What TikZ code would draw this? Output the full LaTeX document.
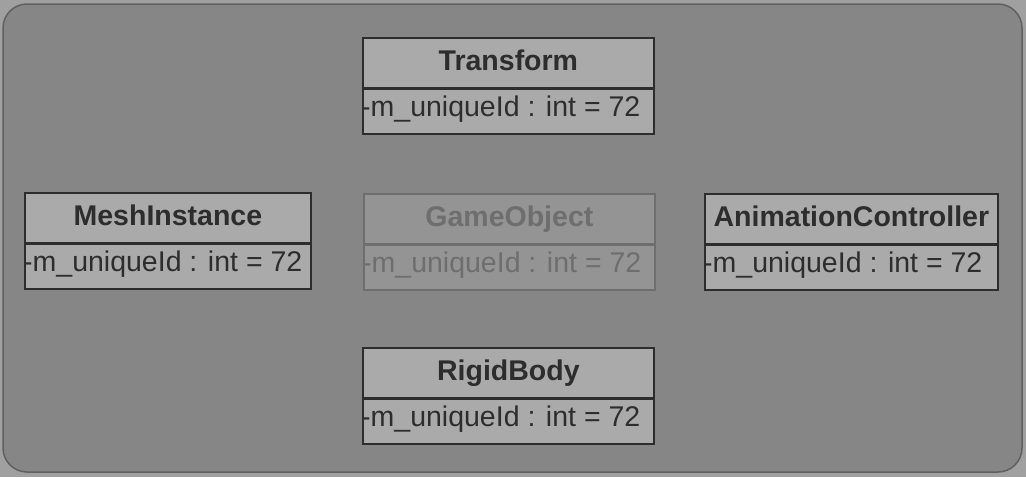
\documentclass[tikz,border=0pt]{standalone}
\usepackage{fontspec}
\setmainfont{Liberation Sans}
\definecolor{papergray}{RGB}{160,160,160}
\definecolor{panelgray}{RGB}{134,134,134}
\definecolor{edgegray}{RGB}{96,96,96}
\definecolor{boxgray}{RGB}{170,170,170}
\definecolor{inkgray}{RGB}{45,45,45}
\definecolor{fadegray}{RGB}{110,110,110}
\definecolor{fadefill}{RGB}{148,148,148}

% one UML class: [box style]{text style} name, left x, top y, width, title
\newcommand{\classbox}[7][]{%
  \node[compartment,#1,minimum width=#6pt,minimum height=50pt] (#3-head) at (#4,#5) {};
  \node[compartment,#1,minimum width=#6pt,minimum height=45pt] (#3-attr) at ([yshift=0.9pt]#3-head.south west) {};
  \node[classtitle,#2] (#3-name) at ([yshift=-8pt]#3-head.center) {#7};
  \node[classattr,#2] (#3-field) at ([xshift=-1pt,yshift=-29pt]#3-attr.north west) {-m\_uniqueId : int = 72};
}

\begin{document}
\begin{tikzpicture}[x=1pt,y=-1pt,
  panel/.style={fill=panelgray, draw=edgegray, line width=1.5pt, rounded corners=24pt},
  compartment/.style={draw=inkgray, fill=boxgray, line width=1.8pt, inner sep=0pt, anchor=north west},
  classtitle/.style={font=\fontsize{28.5}{30}\selectfont\bfseries, text=inkgray, anchor=base, inner sep=0pt},
  classattr/.style={font=\fontsize{28.5}{30}\selectfont, text=inkgray, anchor=base west, inner sep=0pt},
  fadedbox/.style={draw=fadegray, fill=fadefill},
  fadedtext/.style={text=fadegray}
]
  % page and rounded panel
  \fill[papergray] (0,0) rectangle (1026,477);
  \useasboundingbox (0,0) rectangle (1026,477);
  \draw[panel] (3,4) rectangle (1022,472);

  % classes
  \classbox{}{transform}{362}{37}{291}{Transform}
  \classbox{}{mesh}{24}{192}{286}{MeshInstance}
  \classbox[fadedbox]{fadedtext}{gameobject}{363}{193}{291}{GameObject}
  \classbox{}{anim}{704}{193}{293}{AnimationController}
  \classbox{}{rigid}{362}{347}{291}{RigidBody}
\end{tikzpicture}
\end{document}
